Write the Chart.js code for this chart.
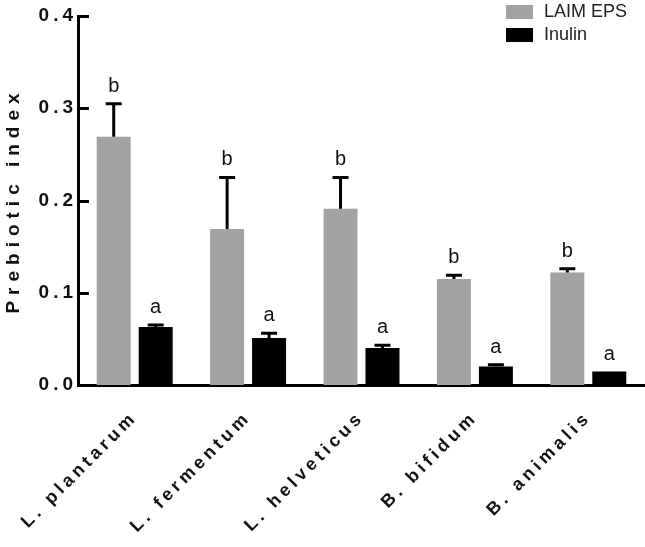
<!DOCTYPE html>
<html>
<head>
<meta charset="utf-8">
<script src="https://cdn.jsdelivr.net/npm/chart.js@4.4.1/dist/chart.umd.min.js"></script>
<style>
  body { margin: 0; background: #fff; }
</style>
</head>
<body>
<canvas id="myChart" width="645" height="547"></canvas>
<script>
// strains on the x axis
const categories = ['L. plantarum', 'L. fermentum', 'L. helveticus', 'B. bifidum', 'B. animalis'];
// prebiotic index, mean and upper error
const epsValues = [0.269, 0.169, 0.191, 0.115, 0.122];
const epsErrors = [0.036, 0.056, 0.034, 0.004, 0.004];
const inulinValues = [0.063, 0.051, 0.040, 0.020, 0.0145];
const inulinErrors = [0.002, 0.005, 0.003, 0.002, 0];
// significance letters
const epsLetters = ['b', 'b', 'b', 'b', 'b'];
const inulinLetters = ['a', 'a', 'a', 'a', 'a'];
const yTicks = [0, 0.1, 0.2, 0.3, 0.4];

const FONT = "'Liberation Sans', Arial, sans-serif";

const decor = {
  id: 'decor',
  beforeDraw(chart) {
    chart.ctx.letterSpacing = '6px'; // axis title
  },
  beforeDatasetsDraw(chart) {
    chart.ctx.letterSpacing = '0px';
  },
  afterDatasetsDraw(chart) {
    const ctx = chart.ctx;
    const y = chart.scales.y;
    const area = chart.chartArea;
    ctx.save();
    ctx.letterSpacing = '0px';
    // inward tick marks on y axis
    ctx.strokeStyle = '#000';
    ctx.lineWidth = 3;
    yTicks.forEach(v => {
      const py = Math.round(y.getPixelForValue(v)) + 0.5;
      ctx.beginPath();
      ctx.moveTo(area.left, py);
      ctx.lineTo(area.left + 11, py);
      ctx.stroke();
    });
    // error bars and letters
    const errs = [epsErrors, inulinErrors];
    const vals = [epsValues, inulinValues];
    const letters = [epsLetters, inulinLetters];
    ctx.font = '20px ' + FONT;
    ctx.textAlign = 'center';
    ctx.textBaseline = 'alphabetic';
    ctx.fillStyle = '#111';
    [0, 1].forEach(d => {
      const meta = chart.getDatasetMeta(d);
      meta.data.forEach((bar, i) => {
        const top = y.getPixelForValue(vals[d][i] + errs[d][i]);
        if (errs[d][i] > 0) {
          ctx.lineWidth = 3;
          ctx.beginPath();
          ctx.moveTo(bar.x, bar.y);
          ctx.lineTo(bar.x, top);
          ctx.moveTo(bar.x - 8, top);
          ctx.lineTo(bar.x + 8, top);
          ctx.stroke();
        }
        ctx.fillText(letters[d][i], bar.x, top - 12);
      });
    });
    ctx.restore();
    ctx.letterSpacing = '4px'; // tick labels
  },
  afterDraw(chart) {
    const ctx = chart.ctx;
    ctx.save();
    ctx.letterSpacing = '0px';
    ctx.font = '18px ' + FONT;
    ctx.textBaseline = 'middle';
    ctx.textAlign = 'left';
    chart.data.datasets.forEach((ds, i) => {
      const top = 5 + i * 23;
      ctx.fillStyle = ds.backgroundColor;
      ctx.fillRect(506, top, 27, 14);
      ctx.fillStyle = '#222';
      ctx.fillText(ds.label, 544, top + 7);
    });
    ctx.restore();
  }
};

const ctx = document.getElementById('myChart').getContext('2d');
const myChart = new Chart(ctx, {
  type: 'bar',
  data: {
    labels: categories,
    datasets: [
      { label: 'LAIM EPS', data: epsValues, backgroundColor: '#a2a2a2' },
      { label: 'Inulin', data: inulinValues, backgroundColor: '#000000' }
    ]
  },
  options: {
    responsive: false,
    animation: false,
    layout: { padding: { top: 16, right: 0, left: 0, bottom: 0 } },
    categoryPercentage: 0.74,
    barPercentage: 0.81,
    plugins: {
      legend: { display: false },
      tooltip: { enabled: false }
    },
    scales: {
      x: {
        grid: { display: false, drawTicks: false, tickLength: 0 },
        border: { display: true, color: '#000', width: 3 },
        ticks: {
          z: 1,
          color: '#111',
          font: { family: FONT, size: 18, weight: 'bold' },
          minRotation: 45,
          maxRotation: 45,
          padding: 22
        },
        afterFit(scale) { scale.height = 162; }
      },
      y: {
        min: 0,
        max: 0.4,
        grid: { display: false, drawTicks: false, tickLength: 0 },
        border: { display: true, color: '#000', width: 3 },
        afterBuildTicks(scale) { scale.ticks = yTicks.map(v => ({ value: v })); },
        ticks: {
          z: 1,
          color: '#111',
          padding: 1,
          font: { family: FONT, size: 19, weight: 'bold' },
          callback: (v) => Number(v).toFixed(1)
        },
        title: {
          display: true,
          text: 'Prebiotic index',
          color: '#111',
          padding: { top: 2, bottom: 2 },
          font: { family: FONT, size: 19, weight: 'bold' }
        },
        afterFit(scale) { scale.width = 78; }
      }
    }
  },
  plugins: [decor]
});
</script>
</body>
</html>
